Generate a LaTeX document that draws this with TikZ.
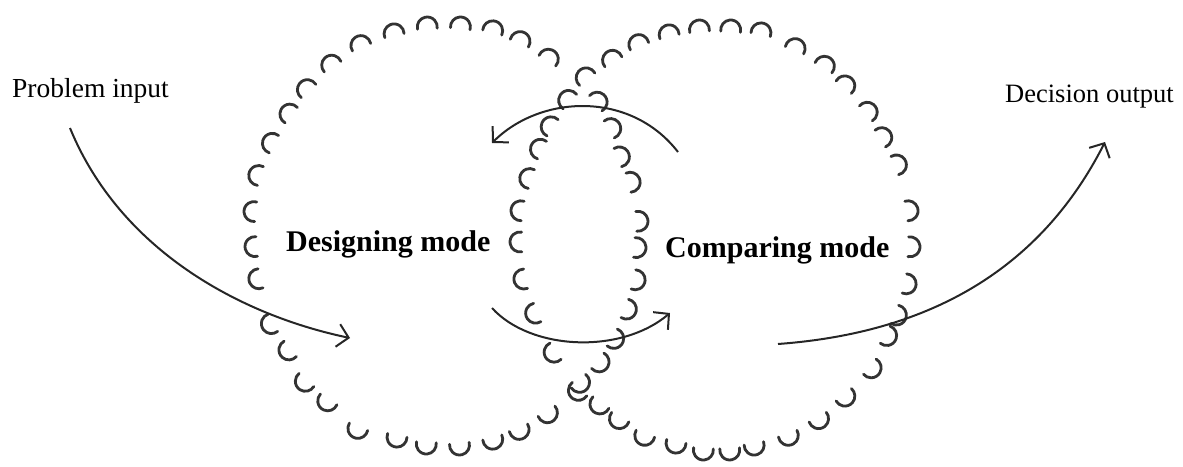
\documentclass[tikz,border=0pt]{standalone}
\usepackage{fontspec}
\setmainfont{Liberation Serif}
\usetikzlibrary{arrows.meta}
\begin{document}
\begin{tikzpicture}[x=1pt,y=-1pt,
  scallop/.style={line width=2.8pt, draw=black!80, line cap=round},
  flow/.style={line width=2pt, draw=black!85, -{Straight Barb[length=11pt,width=23pt,line width=2pt]}},
  lbl/.style={font=\fontsize{27.5}{30}\selectfont, inner sep=0pt},
  mode/.style={font=\fontsize{30}{34}\selectfont\bfseries, inner sep=0pt}]
\useasboundingbox (0,0) rectangle (1183,466);
% left circle scallops
\foreach \px/\py in {427/22, 461/22, 494/26, 522/37, 551/55, 601/99, 615/126, 624/155, 635/181, 643/221, 641/248, 640/281, 631/311, 618/341, 603/365, 583/386, 550/417, 521/434, 494/444, 460/450, 426/449, 396/442, 356/433, 325/405, 302/385, 285/353, 267/326, 254/280, 250/247, 249/211, 254/174, 268/141, 286/111, 304/86, 329/61, 359/41, 393/29} {
  \pgfmathsetmacro\ang{atan2(\py-232,\px-438)}
  \pgfmathsetmacro\sx{\px-5*cos(\ang)+10*cos(\ang-100)}
  \pgfmathsetmacro\sy{\py-5*sin(\ang)+10*sin(\ang-100)}
  \draw[scallop] (\sx,\sy) arc[start angle=\ang-100, end angle=\ang+100, radius=10];
}
% right circle scallops
\foreach \px/\py in {637/40, 668/30, 699/25, 731/25, 762/28, 797/44, 827/62, 848/82, 871/109, 886/135, 901/163, 913/210, 915/247, 911/285, 901/317, 891/338, 875/371, 848/400, 821/423, 790/440, 755/450, 730/455, 703/455, 675/448, 643/440, 617/423, 597/408, 575/394, 550/355, 531/315, 519/280, 515/242, 516/210, 525/177, 536/147, 547/124, 565/97, 583/74, 610/56} {
  \pgfmathsetmacro\ang{atan2(\py-240,\px-718)}
  \pgfmathsetmacro\sx{\px-5*cos(\ang)+10*cos(\ang-100)}
  \pgfmathsetmacro\sy{\py-5*sin(\ang)+10*sin(\ang-100)}
  \draw[scallop] (\sx,\sy) arc[start angle=\ang-100, end angle=\ang+100, radius=10];
}
% labels
\node[lbl, anchor=base west] (pin) at (12,97) {Problem input};
\node[lbl, anchor=base west] (dout) at (1005,102) {\fontsize{26.5}{30}\selectfont Decision output};
\node[mode, anchor=base west] (des) at (286,251) {Designing mode};
\node[mode, anchor=base west] (cmp) at (665,257) {Comparing mode};
% connectors
\coordinate (inS) at (70,128);
\coordinate (inE) at (350,338);
\coordinate (topS) at (678,152);
\coordinate (topE) at (492,143);
\coordinate (botS) at (492,308);
\coordinate (botE) at (670,313);
\coordinate (outS) at (778,344);
\coordinate (outE) at (1105,142);
\draw[flow] (inS) .. controls (120,250) and (240,315) .. (inE);
\draw[flow] (topS) .. controls (630,90) and (540,95) .. (topE);
\draw[flow] (botS) .. controls (530,350) and (620,355) .. (botE);
\draw[flow] (outS) .. controls (900,335) and (1030,290) .. (outE);
\end{tikzpicture}
\end{document}
